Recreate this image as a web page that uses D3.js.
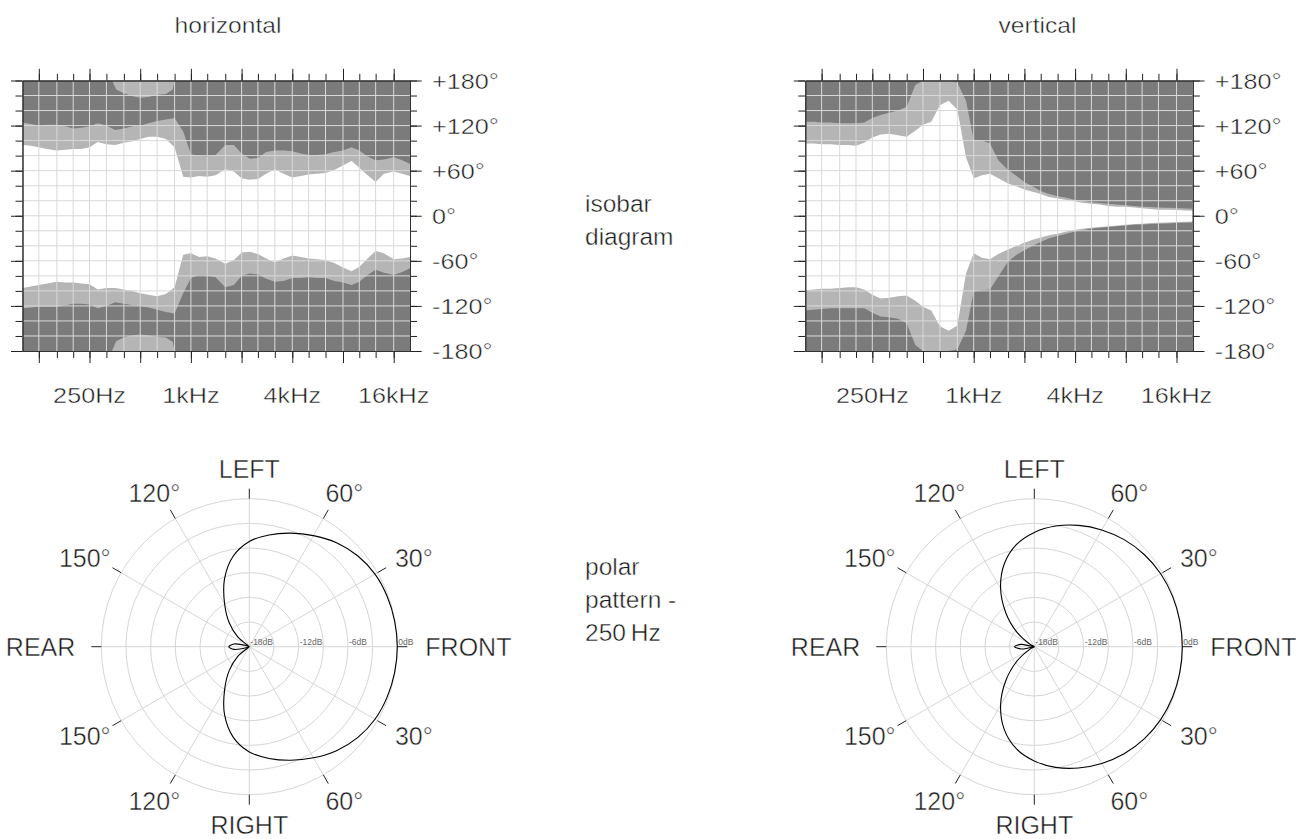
<!DOCTYPE html>
<html>
<head>
<meta charset="utf-8">
<script src="https://cdn.jsdelivr.net/npm/d3@7"></script>
<style>
  body { margin: 0; background: #fff; }
  svg text {
    font-family: "Helvetica Neue", Helvetica, "Liberation Sans", Arial, sans-serif; font-weight: 300;
    fill: #1a1a1a; stroke: #fff; stroke-width: 0.45px; stroke-linejoin: round;
  }
  svg text.db { stroke: none; }
</style>
</head>
<body>
<svg id="chart" width="1296" height="839"></svg>
<script>
// 1/6-octave frequencies the isobar contours are sampled at
const freqs = [100, 112, 125, 140, 160, 180, 200, 224, 250, 280, 315, 355, 400, 450, 500, 560,
  630, 710, 800, 900, 1000, 1120, 1250, 1400, 1600, 1800, 2000, 2240, 2500, 2800, 3150, 3550,
  4000, 4500, 5000, 5600, 6300, 7100, 8000, 9000, 10000, 11200, 12500, 14000, 16000, 18000, 20000];

// horizontal isobars (degrees): inner = white edge, outer = light grey edge
const hInnerUp = [94, 93, 91, 89, 87, 88, 89, 89, 91, 98, 95, 94, 97, 99, 102, 105, 105, 102, 91, 52,
  51, 53, 52, 54, 62, 59, 50, 48, 49, 56, 62, 56, 51, 53, 55, 56, 57, 61, 67, 73, 64, 54, 45, 56, 59, 56, 53];
const hOuterUp = [124, 122, 120, 121, 121, 119, 116, 117, 119, 123, 120, 114, 116, 119, 120, 123, 126, 128, 130, 112,
  82, 80, 79, 81, 94, 94, 83, 76, 77, 85, 87, 87, 86, 83, 81, 81, 82, 85, 87, 91, 87, 79, 74, 75, 78, 74, 69];
const hInnerDown = [-96, -94, -92, -90, -88, -89, -89, -90, -91, -98, -96, -96, -98, -100, -103, -105, -107, -104, -95, -52,
  -50, -55, -54, -57, -64, -59, -49, -48, -51, -57, -62, -57, -53, -55, -57, -58, -59, -63, -69, -74, -68, -57, -47, -50, -58, -57, -55];
const hOuterDown = [-123, -122, -121, -121, -121, -119, -117, -117, -118, -123, -120, -115, -117, -119, -120, -122, -125, -128, -130, -103,
  -83, -79, -80, -82, -95, -92, -80, -77, -78, -84, -88, -87, -83, -83, -82, -83, -83, -87, -89, -92, -88, -79, -72, -76, -79, -75, -70];

// rear lobe of the horizontal plot
const hRearFreqs = [340, 360, 400, 450, 500, 560, 630, 710, 780, 800];
const hRearUp = [180, 168, 163, 159, 157, 158, 161, 162, 168, 180];
const hRearDown = [-180, -167, -162, -159, -158, -159, -161, -162, -168, -180];

// vertical isobars
const vInnerUp = [96, 96, 95, 95, 94, 94, 93, 97, 104, 108, 109, 107, 105, 113, 121, 125, 147, 153, 141, 78,
  50, 54, 56, 50, 43, 39, 35, 32, 29, 25, 23, 21, 19, 17, 16, 15, 13, 12, 12, 11, 10, 9, 8, 8, 7.5, 7, 6.7];
const vOuterUp = [125, 125, 124, 124, 123, 123, 123, 124, 130, 134, 137, 140, 145, 174, 180, 180, 180, 180, 177, 153,
  101, 100, 96, 74, 61, 53, 45, 39, 33, 29, 26, 24, 21, 20, 18, 17, 16, 15, 14, 13, 12, 11.5, 11, 10.6, 10.2, 9.8, 9.3];
const vInnerDown = [-99, -98, -97, -97, -96, -95, -95, -98, -105, -110, -109, -107, -106, -113, -121, -126, -147, -153, -146, -77,
  -50, -56, -58, -51, -45, -40, -36, -32, -29, -26, -24, -21, -19, -17, -16, -15, -14, -13, -12, -11, -10.6, -9.8, -9.3, -8.9, -8.4, -8, -7.5];
const vOuterDown = [-126, -125, -124, -123, -123, -123, -123, -123, -129, -134, -135, -137, -143, -172, -180, -180, -180, -180, -178, -153,
  -101, -99, -98, -81, -61, -52, -46, -40, -35, -30, -27, -24, -21, -19, -17, -16, -15, -14, -13, -12, -11.5, -11, -10.6, -10.2, -9.8, -9.3, -8.9];

// axis ticks / labels
const thirdOct = [125, 160, 200, 250, 315, 400, 500, 630, 800, 1000, 1250, 1600, 2000, 2500, 3150, 4000,
  5000, 6300, 8000, 10000, 12500, 16000];
const octaves = [125, 250, 500, 1000, 2000, 4000, 8000, 16000];
const xLabelVals = [250, 1000, 4000, 16000];
const xLabels = ["250Hz", "1kHz", "4kHz", "16kHz"];
const yMinor = d3.range(-180, 181, 20);
const yMajor = [-180, -120, -60, 0, 60, 120, 180];
const yLabels = ["-180°", "-120°", "-60°", "0°", "+60°", "+120°", "+180°"];

// polar pattern at 250 Hz, dB at 0..180 deg (pattern is symmetric)
const polarSteps = [0, 10, 20, 30, 40, 50, 60, 70, 80, 90, 100, 110, 120, 130, 140, 150, 160, 170, 180];
const hPolarDb = [0, -0.05, -0.15, -0.35, -0.8, -1.5, -2.4, -3.3, -4.2, -5.2, -6.8, -9.2, -12, -14.2, -16.2, -18.5, -17.6, -16.1, -15.5];
const vPolarDb = [0, -0.03, -0.1, -0.25, -0.55, -1.0, -1.6, -2.3, -3.1, -4.1, -5.4, -7.3, -9.8, -12.6, -15.2, -17.4, -18.5, -16.4, -15.6];
const dbRings = [-15, -12, -9, -6, -3, 0];
const dbLabelVals = [-18, -12, -6, 0];
const dbLabels = ["-18dB", "-12dB", "-6dB", "0dB"];
const polarAngles = [0, 30, 60, 90, 120, 150, 180, 210, 240, 270, 300, 330];
const polarLabels = ["FRONT", "30°", "60°", "LEFT", "120°", "150°", "REAR", "150°", "120°", "RIGHT", "60°", "30°"];

const DARK = "#7b7b7b", LIGHT = "#b5b5b5", GRID = "#d9d9d9", INK = "#222";
const SX = 1.12; // isobar text is slightly wide
const svg = d3.select("#chart");
const W = 387.5, H = 270.5;

function isobar(x0, y0, id, title, titleX, innerUp, outerUp, innerDown, outerDown, rear) {
  const x = d3.scaleLog().domain([100, 20000]).range([0, W]);
  const y = d3.scaleLinear().domain([-180, 180]).range([H, 0]);

  svg.append("text")
    .attr("transform", `translate(${titleX},32.7) scale(${SX},1)`)
    .attr("text-anchor", "middle").style("font-size", "22px").text(title);

  const g = svg.append("g").attr("transform", `translate(${x0},${y0})`);
  g.append("clipPath").attr("id", id).append("rect").attr("width", W).attr("height", H);
  const plot = g.append("g").attr("clip-path", `url(#${id})`);

  plot.append("rect").attr("width", W).attr("height", H).attr("fill", DARK);
  plot.append("path").datum(freqs)
    .attr("fill", LIGHT)
    .attr("d", d3.area().x(d => x(d)).y0((d, i) => y(outerDown[i])).y1((d, i) => y(outerUp[i])));
  plot.append("path").datum(freqs)
    .attr("fill", "#fff")
    .attr("d", d3.area().x(d => x(d)).y0((d, i) => y(innerDown[i])).y1((d, i) => y(innerUp[i])));
  if (rear) {
    plot.append("path").datum(rear.f).attr("fill", LIGHT)
      .attr("d", d3.area().x(d => x(d)).y0(y(180)).y1((d, i) => y(rear.up[i])));
    plot.append("path").datum(rear.f).attr("fill", LIGHT)
      .attr("d", d3.area().x(d => x(d)).y0(y(-180)).y1((d, i) => y(rear.down[i])));
  }

  // grid
  plot.selectAll(".gx").data(thirdOct).join("line")
    .attr("x1", d => x(d)).attr("x2", d => x(d)).attr("y1", 0).attr("y2", H)
    .attr("stroke", GRID).attr("stroke-width", 1);
  plot.selectAll(".gy").data(yMinor.slice(1, -1)).join("line")
    .attr("y1", d => y(d)).attr("y2", d => y(d)).attr("x1", 0).attr("x2", W)
    .attr("stroke", GRID).attr("stroke-width", 1);

  // axes
  const ax = (a) => g.append("g").style("color", INK).call(a)
    .call(s => s.selectAll("text").remove());
  ax(d3.axisLeft(y).tickValues(yMinor).tickSize(7).tickSizeOuter(0));
  ax(d3.axisLeft(y).tickValues(yMajor).tickSize(11.5).tickSizeOuter(0));
  ax(d3.axisRight(y).tickValues(yMinor).tickSize(7).tickSizeOuter(0)).attr("transform", `translate(${W},0)`);
  ax(d3.axisRight(y).tickValues(yMajor).tickSize(11.7).tickSizeOuter(0)).attr("transform", `translate(${W},0)`);
  ax(d3.axisTop(x).tickValues(thirdOct).tickSize(6.7).tickSizeOuter(0));
  ax(d3.axisTop(x).tickValues(octaves).tickSize(11.7).tickSizeOuter(0));
  ax(d3.axisBottom(x).tickValues(thirdOct).tickSize(7).tickSizeOuter(0)).attr("transform", `translate(0,${H})`);
  ax(d3.axisBottom(x).tickValues(octaves).tickSize(12).tickSizeOuter(0)).attr("transform", `translate(0,${H})`);
  g.selectAll(".domain").attr("stroke", "#333");

  g.selectAll(".yl").data(yMajor).join("text")
    .attr("transform", d => `translate(${W + 22},${y(d)}) scale(${SX},1)`)
    .attr("dy", "0.36em").style("font-size", "22.5px")
    .text((d, i) => yLabels[i]);
  g.selectAll(".xl").data(xLabelVals).join("text")
    .attr("transform", d => `translate(${x(d)},${H + 52}) scale(${SX},1)`)
    .attr("text-anchor", "middle").style("font-size", "22.5px")
    .text((d, i) => xLabels[i]);
}

function polar(cx, cy, dbVals) {
  const R = 148;
  const r = d3.scaleLinear().domain([-18, 0]).range([0, R]).clamp(true);
  const rad = a => a * Math.PI / 180;
  const g = svg.append("g").attr("transform", `translate(${cx},${cy})`);

  g.selectAll(".ring").data(dbRings).join("circle")
    .attr("r", d => r(d)).attr("fill", "none").attr("stroke", "#d6d6d6");
  g.selectAll(".spoke").data(polarAngles).join("line")
    .attr("x2", d => R * Math.cos(rad(d))).attr("y2", d => -R * Math.sin(rad(d)))
    .attr("stroke", "#d6d6d6");
  g.selectAll(".tick").data(polarAngles).join("line")
    .attr("x1", d => R * Math.cos(rad(d))).attr("y1", d => -R * Math.sin(rad(d)))
    .attr("x2", d => (R + 10) * Math.cos(rad(d))).attr("y2", d => -(R + 10) * Math.sin(rad(d)))
    .attr("stroke", INK);

  g.selectAll(".db").data(dbLabelVals).join("text").attr("class", "db")
    .attr("x", d => r(d) + 1).attr("y", -1.5)
    .style("font-size", "8.5px").style("fill", "#666")
    .text((d, i) => dbLabels[i]);

  // angle labels sit on an ellipse round the plot
  g.selectAll(".al").data(polarAngles).join("text")
    .attr("x", d => d === 0 ? R + 28 : d === 180 ? -(R + 26) : 190 * Math.cos(rad(d)))
    .attr("y", d => -178 * Math.sin(rad(d)))
    .attr("dy", "0.36em")
    .attr("text-anchor", d => d === 0 ? "start" : d === 180 ? "end" : "middle")
    .style("font-size", "25px")
    .text((d, i) => polarLabels[i]);

  const pts = polarSteps.map((a, i) => [a, dbVals[i]])
    .concat(polarSteps.slice(1, -1).reverse().map(a => [360 - a, dbVals[polarSteps.indexOf(a)]]));
  g.append("path").datum(pts)
    .attr("fill", "none").attr("stroke", "#000").attr("stroke-width", 1.1)
    .attr("d", d3.lineRadial().angle(d => rad(90 - d[0])).radius(d => r(d[1])).curve(d3.curveCatmullRomClosed));
}

isobar(22.5, 80.5, "clipH", "horizontal", 228, hInnerUp, hOuterUp, hInnerDown, hOuterDown,
  { f: hRearFreqs, up: hRearUp, down: hRearDown });
isobar(805.3, 80.5, "clipV", "vertical", 1037.5, vInnerUp, vOuterUp, vInnerDown, vOuterDown, null);

polar(249.3, 646.7, hPolarDb);
polar(1034.3, 646.7, vPolarDb);

// middle captions
const mid = svg.append("g").style("font-size", "24.5px");
[["isobar", 212], ["diagram", 245], ["polar", 575], ["pattern -", 608], ["250\u2009Hz", 641]]
  .forEach(([t, yy]) => mid.append("text").attr("x", 585).attr("y", yy).text(t));
</script>
</body>
</html>
